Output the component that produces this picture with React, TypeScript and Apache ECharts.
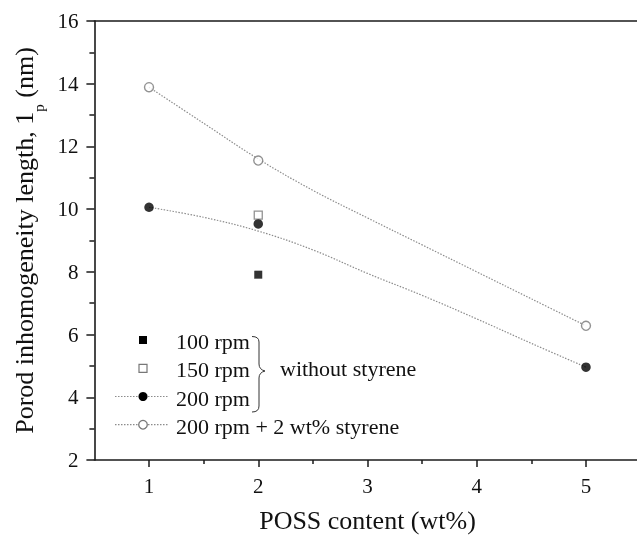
import React, { useEffect, useRef } from "react";
import * as echarts from "echarts";

// ---- data ----
const rpm100X = [2];
const rpm100Y = [7.91];
const rpm150X = [2];
const rpm150Y = [9.81];
const rpm200X = [1, 2, 5];
const rpm200Y = [10.06, 9.53, 4.96];
const styreneX = [1, 2, 5];
const styreneY = [13.89, 11.55, 6.28];
// fitted (dotted) curves
const fit200X = [1, 1.5, 2, 2.5, 3, 3.5, 4, 4.5, 5];
const fit200Y = [10.06, 9.74, 9.3, 8.7, 7.95, 7.25, 6.5, 5.72, 4.96];
const fitStyX = [1, 1.5, 2, 2.5, 3, 3.5, 4, 4.5, 5];
const fitStyY = [13.89, 12.74, 11.6, 10.6, 9.72, 8.86, 8.0, 7.14, 6.28];
const xMajorTicks = [1, 2, 3, 4, 5];
const xMinorTicks = [1.5, 2.5, 3.5, 4.5];
const legendLabels = ["100 rpm", "150 rpm", "200 rpm", "200 rpm + 2 wt% styrene"];
const braceLabel = "without styrene";

const FONT = "Liberation Serif";
const AXIS = "#1a1a1a";
const GRAYLINE = "#8c8c8c";

const zip = (xs: number[], ys: number[]) => xs.map((x, i) => [x, ys[i]]);

export default function App() {
  const ref = useRef<HTMLDivElement>(null);
  useEffect(() => {
    if (!ref.current) return;
    try {
      echarts.graphic.registerShape(
        "brace",
        echarts.graphic.extendPath(
          "M252,336.5 Q259,336.5 259,342 L259,364 Q259,369.5 265,371 Q259,372.5 259,378 L259,406 Q259,412 252,412",
          {}
        )
      );
    } catch (e) {}
    const chart = echarts.init(ref.current, null, { renderer: "svg" });
    const rows = [341.5, 369.8, 398, 426.2];
    const symX = 143;
    const textX = 176;
    const legendGraphics: any[] = [
      { type: "line", shape: { x1: 115, y1: rows[2] - 1.5, x2: 169, y2: rows[2] - 1.5 }, style: { stroke: GRAYLINE, lineWidth: 1.2, lineDash: [1.5, 1.5] }, z: 10 },
      { type: "line", shape: { x1: 115, y1: rows[3] - 1.5, x2: 169, y2: rows[3] - 1.5 }, style: { stroke: GRAYLINE, lineWidth: 1.2, lineDash: [1.5, 1.5] }, z: 10 },
      { type: "rect", shape: { x: symX - 4, y: rows[0] - 1.5 - 4, width: 8, height: 8 }, style: { fill: "#000" }, z: 11 },
      { type: "rect", shape: { x: symX - 4, y: rows[1] - 1.5 - 4, width: 8, height: 8 }, style: { fill: "#fff", stroke: "#777", lineWidth: 1.2 }, z: 11 },
      { type: "circle", shape: { cx: symX, cy: rows[2] - 1.5, r: 4.5 }, style: { fill: "#000" }, z: 11 },
      { type: "circle", shape: { cx: symX, cy: rows[3] - 1.5, r: 4.3 }, style: { fill: "#fff", stroke: "#777", lineWidth: 1.3 }, z: 11 },
      ...legendLabels.map((t, i) => ({
        type: "text",
        x: textX,
        y: rows[i],
        style: { text: t, fontFamily: FONT, fontSize: 22, fill: "#111", verticalAlign: "middle", align: "left" },
        z: 11,
      })),
      { type: "brace", shape: {}, style: { stroke: "#333", fill: "none", lineWidth: 1 }, z: 11 },
      {
        type: "text",
        x: 280,
        y: rows[1] - 1,
        style: { text: braceLabel, fontFamily: FONT, fontSize: 22, fill: "#111", verticalAlign: "middle", align: "left" },
        z: 11,
      },
    ];

    const option: any = {
      animation: false,
      grid: { left: 94.4, right: -3.6, top: 21, bottom: 75, containLabel: false, outerBoundsMode: "none" },
      xAxis: [
        {
          type: "value",
          min: 0.5,
          max: 5.5,
          interval: 0.5,
          position: "bottom",
          name: "POSS content (wt%)",
          nameLocation: "middle",
          nameGap: 47,
          nameTextStyle: { fontFamily: FONT, fontSize: 26, lineHeight: 26, color: "#111" },
          axisLine: { show: true, lineStyle: { color: AXIS, width: 1.6 } },
          axisTick: { show: true, customValues: xMajorTicks, length: 7, lineStyle: { color: AXIS, width: 1.5 } },
          axisLabel: { customValues: xMajorTicks, margin: 15, fontFamily: FONT, fontSize: 21, color: "#111" },
          splitLine: { show: false },
        },
        {
          type: "value",
          min: 0.5,
          max: 5.5,
          interval: 0.5,
          position: "bottom",
          axisLine: { show: false },
          axisTick: { show: true, customValues: xMinorTicks, length: 4, lineStyle: { color: AXIS, width: 1.5 } },
          axisLabel: { show: false },
          splitLine: { show: false },
        },
        {
          type: "value",
          min: 0.5,
          max: 5.5,
          interval: 0.5,
          position: "top",
          axisLine: { show: true, lineStyle: { color: AXIS, width: 1.6 } },
          axisTick: { show: false },
          axisLabel: { show: false },
          splitLine: { show: false },
        },
      ],
      yAxis: [
        {
          type: "value",
          min: 2,
          max: 16,
          interval: 2,
          position: "left",
          name: "{a|Porod inhomogeneity length, 1}{b|p}{a| (nm)}",
          nameLocation: "middle",
          nameGap: 41,
          nameTextStyle: {
            fontFamily: FONT,
            color: "#111",
            rich: {
              a: { fontFamily: FONT, fontSize: 26, lineHeight: 44, color: "#111" },
              b: { fontFamily: FONT, fontSize: 15, lineHeight: 15, verticalAlign: "bottom", color: "#111" },
            },
          },
          axisLine: { show: true, lineStyle: { color: AXIS, width: 1.6 } },
          axisTick: { show: true, length: 8, lineStyle: { color: AXIS, width: 1.5 } },
          minorTick: { show: true, splitNumber: 2, length: 5, lineStyle: { color: AXIS, width: 1.5 } },
          axisLabel: { margin: 16, fontFamily: FONT, fontSize: 21, color: "#111" },
          splitLine: { show: false },
        },
      ],
      series: [
        {
          type: "line",
          data: zip(fitStyX, fitStyY),
          smooth: 0.4,
          symbol: "none",
          silent: true,
          lineStyle: { color: GRAYLINE, width: 1.2, type: [1.5, 1.5] },
          z: 2,
        },
        {
          type: "line",
          data: zip(fit200X, fit200Y),
          smooth: 0.4,
          symbol: "none",
          silent: true,
          lineStyle: { color: GRAYLINE, width: 1.2, type: [1.5, 1.5] },
          z: 2,
        },
        {
          name: "200 rpm + 2 wt% styrene",
          type: "scatter",
          data: zip(styreneX, styreneY),
          symbol: "circle",
          symbolSize: 9,
          itemStyle: { color: "#fff", borderColor: "#777", borderWidth: 1.4 },
          z: 5,
        },
        {
          name: "200 rpm",
          type: "scatter",
          data: zip(rpm200X, rpm200Y),
          symbol: "circle",
          symbolSize: 9.5,
          itemStyle: { color: "#000" },
          z: 5,
        },
        {
          name: "150 rpm",
          type: "scatter",
          data: zip(rpm150X, rpm150Y),
          symbol: "rect",
          symbolSize: 8,
          itemStyle: { color: "#fff", borderColor: "#777", borderWidth: 1.3 },
          z: 4,
        },
        {
          name: "100 rpm",
          type: "scatter",
          data: zip(rpm100X, rpm100Y),
          symbol: "rect",
          symbolSize: 8,
          itemStyle: { color: "#000" },
          z: 4,
        },
      ],
      graphic: legendGraphics,
    };
    chart.setOption(option);
    return () => chart.dispose();
  }, []);
  return <div ref={ref} style={{ position: "fixed", left: 0, top: 0, width: 637, height: 535 }} />;
}
